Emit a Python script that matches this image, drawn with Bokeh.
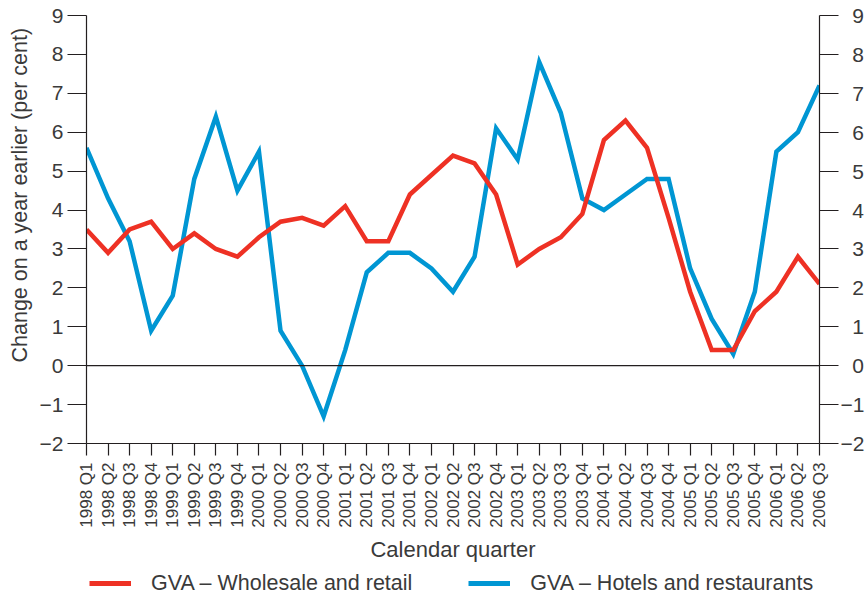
import math
from bokeh.plotting import figure
from bokeh.layouts import column
from bokeh.models import (Range1d, LinearAxis, FixedTicker, Span, Legend,
                          LegendItem, Title)
from bokeh.embed import file_html
from bokeh.resources import INLINE

quarters = ["1998 Q1", "1998 Q2", "1998 Q3", "1998 Q4",
            "1999 Q1", "1999 Q2", "1999 Q3", "1999 Q4",
            "2000 Q1", "2000 Q2", "2000 Q3", "2000 Q4",
            "2001 Q1", "2001 Q2", "2001 Q3", "2001 Q4",
            "2002 Q1", "2002 Q2", "2002 Q3", "2002 Q4",
            "2003 Q1", "2003 Q2", "2003 Q3", "2003 Q4",
            "2004 Q1", "2004 Q2", "2004 Q3", "2004 Q4",
            "2005 Q1", "2005 Q2", "2005 Q3", "2005 Q4",
            "2006 Q1", "2006 Q2", "2006 Q3"]
wholesale = [3.5, 2.9, 3.5, 3.7, 3.0, 3.4, 3.0, 2.8, 3.3, 3.7, 3.8, 3.6,
             4.1, 3.2, 3.2, 4.4, 4.9, 5.4, 5.2, 4.4, 2.6, 3.0, 3.3, 3.9,
             5.8, 6.3, 5.6, 3.8, 1.9, 0.4, 0.4, 1.4, 1.9, 2.8, 2.1]
hotels = [5.6, 4.3, 3.2, 0.9, 1.8, 4.8, 6.4, 4.5, 5.5, 0.9, 0.0, -1.3,
          0.4, 2.4, 2.9, 2.9, 2.5, 1.9, 2.8, 6.1, 5.3, 7.8, 6.5, 4.3,
          4.0, 4.4, 4.8, 4.8, 2.5, 1.2, 0.3, 1.9, 5.5, 6.0, 7.2]
y_ticks = [-2, -1, 0, 1, 2, 3, 4, 5, 6, 7, 8, 9]
y_tick_labels = ["\u22122", "\u22121", "0", "1", "2", "3", "4", "5", "6", "7", "8", "9"]
series_names = ["GVA \u2013 Wholesale and retail", "GVA \u2013 Hotels and restaurants"]
y_title = "Change on a year earlier (per cent)"
x_title = "Calendar quarter"

RED = "#ee3124"
BLUE = "#0096d3"
INK = "#231f20"
TXT = "#3a3a3a"
FONT = "Liberation Sans"

x = list(range(len(quarters)))

p = figure(width=867, height=570, output_backend="svg", toolbar_location=None,
           x_range=Range1d(0, len(quarters) - 1), y_range=Range1d(-2, 9),
           x_axis_location=None, y_axis_location=None,
           min_border_left=86, min_border_right=48, min_border_top=15,
           min_border_bottom=127)
p.outline_line_color = None
p.xgrid.visible = False
p.ygrid.visible = False
p.background_fill_color = "white"

def style_axis(ax, size):
    ax.axis_line_color = INK
    ax.axis_line_width = 1.2
    ax.major_tick_line_color = INK
    ax.major_tick_line_width = 1.2
    ax.minor_tick_line_color = None
    ax.major_tick_in = 0
    ax.major_label_text_font = FONT
    ax.major_label_text_font_size = size
    ax.major_label_text_color = TXT
    ax.axis_label_text_font = FONT
    ax.axis_label_text_font_style = "normal"
    ax.axis_label_text_color = TXT

xaxis = LinearAxis(ticker=FixedTicker(ticks=x))
style_axis(xaxis, "17px")
xaxis.major_label_overrides = {i: q for i, q in zip(x, quarters)}
xaxis.major_label_orientation = math.pi / 2
xaxis.major_tick_out = 12
xaxis.major_label_standoff = 7
xaxis.axis_label = x_title
xaxis.axis_label_text_font_size = "22px"
xaxis.axis_label_standoff = 6
p.add_layout(xaxis, "below")

left_labels = {t: s for t, s in zip(y_ticks, y_tick_labels)}
right_labels = {t: (s if s.startswith("\u2212") else "\u2007" + s)
                for t, s in zip(y_ticks, y_tick_labels)}
for side, labels, standoff in (("left", left_labels, 4), ("right", right_labels, 2)):
    ax = LinearAxis(ticker=FixedTicker(ticks=y_ticks))
    style_axis(ax, "21px")
    ax.major_label_overrides = labels
    ax.major_tick_out = 19
    ax.major_label_standoff = standoff
    p.add_layout(ax, side)

t = Title(text=y_title, align="left", offset=81, text_font=FONT,
          text_font_size="21.5px", text_font_style="normal",
          text_color=TXT, standoff=10)
p.add_layout(t, "left")

p.add_layout(Span(location=0, dimension="width", line_color=INK, line_width=1.2))

p.line(x, hotels, line_color=BLUE, line_width=4.5, line_join="miter")
p.line(x, wholesale, line_color=RED, line_width=4.5, line_join="miter")

# legend strip below the chart
lg = figure(width=867, height=26, output_backend="svg", toolbar_location=None,
            x_range=Range1d(0, 1), y_range=Range1d(0, 1),
            x_axis_location=None, y_axis_location=None,
            min_border_left=86, min_border_right=0, min_border_top=0,
            min_border_bottom=0)
lg.outline_line_color = None
lg.xgrid.visible = False
lg.ygrid.visible = False
k_red = lg.line([-5, -4], [-5, -4], line_color=RED, line_width=5)
k_blue = lg.line([-5, -4], [-5, -4], line_color=BLUE, line_width=5)
legend = Legend(items=[LegendItem(label=series_names[0], renderers=[k_red]),
                       LegendItem(label=series_names[1], renderers=[k_blue])],
                orientation="horizontal", location=(3, 0),
                glyph_width=42, glyph_height=26, label_standoff=20, spacing=56,
                label_text_font=FONT, label_text_font_size="21.5px",
                label_text_color=TXT, border_line_color=None,
                background_fill_alpha=0, padding=0, margin=0)
lg.add_layout(legend, "center")

layout = column(p, lg, spacing=0)
open("out.html", "w").write(file_html(layout, INLINE))
